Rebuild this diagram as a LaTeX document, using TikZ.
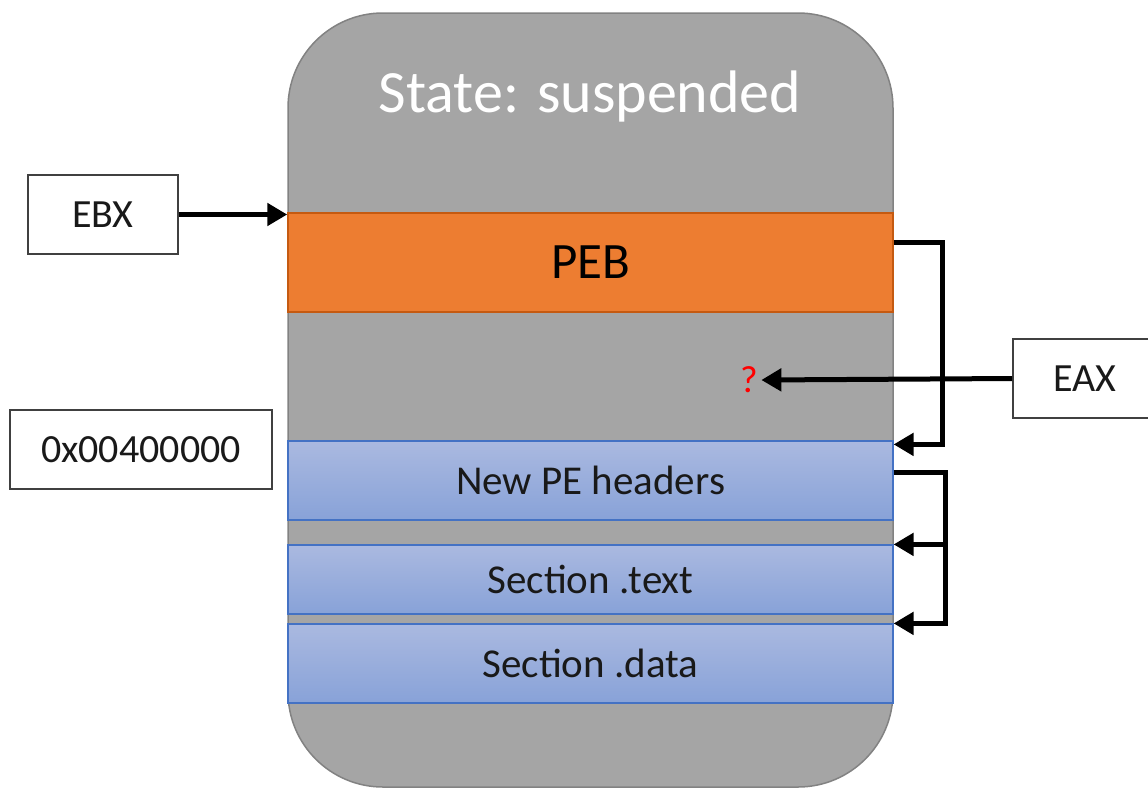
\documentclass[tikz,border=0pt]{standalone}
\usepackage{fontspec}
\setmainfont{Carlito}
\usetikzlibrary{arrows.meta}
\definecolor{memgray}{RGB}{165, 165, 165}
\definecolor{memedge}{RGB}{130, 130, 130}
\definecolor{pebfill}{RGB}{237, 125, 49}
\definecolor{pebedge}{RGB}{197, 90, 17}
\definecolor{secedge}{RGB}{68, 114, 196}
\definecolor{sectop}{RGB}{170, 185, 224}
\definecolor{secbot}{RGB}{136, 162, 216}
\definecolor{txt}{RGB}{25, 25, 25}

\begin{document}
\begin{tikzpicture}[
  x=1pt, y=-1pt,
  regbox/.style={draw=black!75, line width=1.6pt, fill=white, minimum height=79pt, align=center, font=\fontsize{40}{44}\selectfont, text=txt},
  secbox/.style={draw=secedge, line width=1.2pt, top color=sectop, bottom color=secbot, minimum width=605pt, font=\fontsize{41}{46}\selectfont, text=txt},
  arr/.style={-{Triangle[length=20pt, width=22pt]}, line width=5pt, black}
]
  \useasboundingbox (0,0) rectangle (1148,788);

  % Process memory
  \node[draw=memedge, line width=1.5pt, fill=memgray, rounded corners=95pt, minimum width=605pt, minimum height=774pt] (proc) at (590.5, 400) {};
  \node[font=\fontsize{60}{66}\selectfont, text=white] (title) at (590, 96) {State: suspended};

  \node[draw=pebedge, line width=1.5pt, fill=pebfill, minimum width=605pt, minimum height=99pt, font=\fontsize{51}{56}\selectfont, text=black] (peb) at (590.5, 262.5) {PEB};
  \node[secbox, minimum height=79pt] (newpe) at (590.5, 480.5) {New PE headers};
  \node[secbox, minimum height=69pt] (sectext) at (590.5, 579.5) {Section .text};
  \node[secbox, minimum height=79pt] (secdata) at (590.5, 663.5) {Section .data};
  \node[font=\fontsize{38}{42}\selectfont, text=red] (q) at (749, 380) {?};

  % Registers
  \node[regbox, minimum width=150pt] (ebx) at (103, 214.5) {EBX};
  \node[regbox, minimum width=262pt] (base) at (141, 449.5) {0x00400000};
  \node[regbox, minimum width=144pt] (eax) at (1085, 378.5) {EAX};

  \draw[arr] (ebx.east) -- (ebx.east -| peb.north west);
  \draw[arr] (eax.west) -- (q.east);
  \draw[arr] ([yshift=20pt]peb.east) -- ++(49,0) |- ([yshift=-4pt]newpe.north east);
  \draw[arr] ([yshift=8pt]newpe.east) -- ++(52,0) coordinate (bend) |- (secdata.north east);
  \draw[arr] (bend) |- (sectext.north east);
\end{tikzpicture}
\end{document}
